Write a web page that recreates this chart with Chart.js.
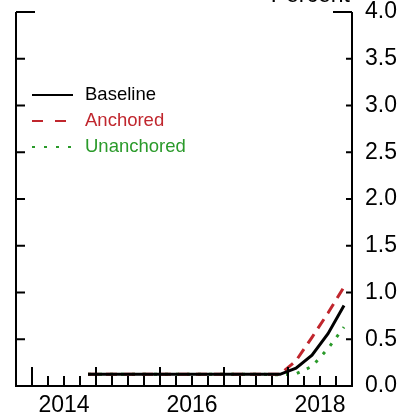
<!DOCTYPE html>
<html lang="en">
<head>
<meta charset="UTF-8">
<title>Policy rate paths</title>
<script src="https://cdn.jsdelivr.net/npm/chart.js"></script>
<style>
  html, body { margin: 0; padding: 0; background: #fff; }
  #wrap { width: 417px; height: 417px; }
</style>
</head>
<body>
<div id="wrap"><canvas id="grafico"></canvas></div>
<script>
// quarterly points, plotted at mid-quarter
const quarters = ['2014Q4',
  '2015Q1', '2015Q2', '2015Q3', '2015Q4',
  '2016Q1', '2016Q2', '2016Q3', '2016Q4',
  '2017Q1', '2017Q2', '2017Q3', '2017Q4',
  '2018Q1', '2018Q2', '2018Q3', '2018Q4'];
const baseline = [0.125, 0.125, 0.125, 0.125, 0.125, 0.125, 0.125, 0.125, 0.125,
  0.125, 0.125, 0.125, 0.125, 0.19, 0.33, 0.56, 0.86];
const anchored = [0.125, 0.125, 0.125, 0.125, 0.125, 0.125, 0.125, 0.125, 0.125,
  0.125, 0.125, 0.125, 0.125, 0.27, 0.52, 0.78, 1.06];
const unanchored = [0.125, 0.125, 0.125, 0.125, 0.125, 0.125, 0.125, 0.125, 0.125,
  0.125, 0.125, 0.125, 0.12, 0.13, 0.21, 0.40, 0.63];
const yearLabels = ['2014', '2016', '2018'];
const yTicks = [0, 0.5, 1, 1.5, 2, 2.5, 3, 3.5, 4];

function qToX(q) {
  const y = parseInt(q.slice(0, 4));
  const n = parseInt(q.slice(5));
  return y + (n - 1) / 4 + 0.125;
}
function pontos(vals) {
  return quarters.map((q, i) => ({ x: qToX(q), y: vals[i] }));
}

const FONT = '"Liberation Sans", Arial, sans-serif';
const RED = '#c0262d';
const GREEN = '#2a9a2a';

const moldura = {
  id: 'moldura',
  afterDraw(chart) {
    const ctx = chart.ctx;
    const a = chart.chartArea;
    const xs = chart.scales.x;
    const ys = chart.scales.y;
    ctx.save();
    ctx.strokeStyle = '#000';
    ctx.lineWidth = 2;
    // left, bottom and right border
    ctx.beginPath();
    ctx.moveTo(a.left, a.top);
    ctx.lineTo(a.left, a.bottom);
    ctx.lineTo(a.right, a.bottom);
    ctx.lineTo(a.right, a.top);
    ctx.stroke();
    // inward y ticks + labels on the right
    ctx.fillStyle = '#000';
    ctx.font = '23px ' + FONT;
    ctx.textAlign = 'left';
    ctx.textBaseline = 'middle';
    yTicks.forEach(v => {
      const py = ys.getPixelForValue(v);
      const lenL = v === 4 ? 19 : 9;
      const lenR = v === 4 ? 19 : 6;
      ctx.beginPath();
      ctx.moveTo(a.left, py); ctx.lineTo(a.left + lenL, py);
      ctx.moveTo(a.right, py); ctx.lineTo(a.right - lenR, py);
      ctx.stroke();
      ctx.fillText(v.toFixed(1), a.right + 13, py);
    });
    // x ticks: quarters and years
    for (let t = 2014; t < 2019; t += 0.25) {
      const px = xs.getPixelForValue(t);
      const major = Math.abs(t - Math.round(t)) < 1e-6;
      ctx.beginPath();
      ctx.moveTo(px, a.bottom);
      ctx.lineTo(px, a.bottom - (major ? 19 : 10));
      ctx.stroke();
    }
    // year labels centred on the year
    ctx.textAlign = 'center';
    yearLabels.forEach(y => {
      ctx.fillText(y, xs.getPixelForValue(parseInt(y) + 0.5), a.bottom + 20);
    });
    // unit title, clipped at top
    ctx.textAlign = 'right';
    ctx.textBaseline = 'alphabetic';
    ctx.fillText('Percent', a.right - 2, 2);
    // legend
    ctx.font = '18.5px ' + FONT;
    ctx.textAlign = 'left';
    ctx.textBaseline = 'middle';
    chart.data.datasets.forEach((ds, i) => {
      const ly = 95 + i * 26;
      ctx.strokeStyle = ds.borderColor;
      ctx.lineWidth = 2;
      ctx.setLineDash(ds.legendDash || []);
      ctx.beginPath();
      ctx.moveTo(32, ly); ctx.lineTo(73, ly);
      ctx.stroke();
      ctx.setLineDash([]);
      ctx.fillStyle = ds.borderColor;
      ctx.fillText(ds.label, 85, ly);
    });
    ctx.restore();
  }
};

new Chart(document.getElementById('grafico'), {
  type: 'line',
  data: {
    datasets: [
      { label: 'Baseline', data: pontos(baseline), borderColor: '#000', borderWidth: 3, order: 0 },
      { label: 'Anchored', data: pontos(anchored), borderColor: RED, borderWidth: 3,
        borderDash: [11, 7], legendDash: [11, 12], order: 1 },
      { label: 'Unanchored', data: pontos(unanchored), borderColor: GREEN, borderWidth: 3,
        borderDash: [3, 8], legendDash: [3, 9], order: 2 }
    ]
  },
  options: {
    responsive: true,
    maintainAspectRatio: false,
    animation: false,
    elements: { point: { radius: 0 }, line: { tension: 0 } },
    layout: { padding: { left: 16, right: 65, top: 12, bottom: 31 } },
    plugins: { legend: { display: false }, tooltip: { enabled: false } },
    scales: {
      x: { type: 'linear', min: 2013.75, max: 2019, display: false },
      y: { min: 0, max: 4, display: false }
    }
  },
  plugins: [moldura]
});
</script>
</body>
</html>
